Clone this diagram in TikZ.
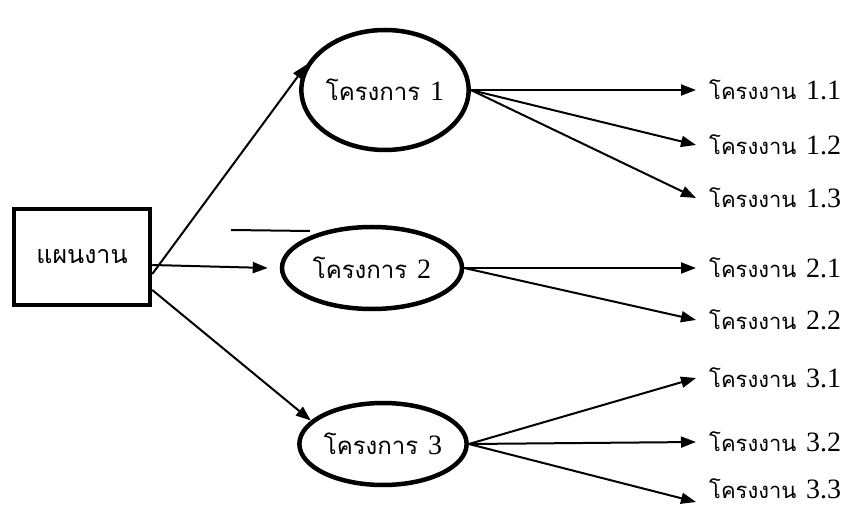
\documentclass[tikz,border=0pt]{standalone}
\usepackage{fontspec}
\setmainfont{Liberation Serif}
\newfontfamily\thaifont[Script=Thai]{Loma}
\usetikzlibrary{shapes.geometric,arrows.meta}
\tikzset{
  proj/.style={draw, ellipse, line width=4.5pt, inner sep=0pt},
  plan/.style={draw, rectangle, line width=4.5pt, minimum width=136pt, minimum height=96pt, inner sep=0pt},
  conn/.style={line width=2pt, -{Triangle[length=15pt,width=11pt]}},
  leaf/.style={anchor=west, inner xsep=13pt, inner ysep=0pt},
}
\newcommand{\thw}[2]{{\thaifont\fontsize{#1}{#1}\selectfont #2}}
\newcommand{\num}[1]{{\fontsize{28}{30}\selectfont\hspace{0.35em}#1}}
\begin{document}
\begin{tikzpicture}[x=1pt,y=-1pt]
\useasboundingbox (0,0) rectangle (851,510);
\node[plan] (box) at (82,257) {\thw{25}{แผนงาน}};
\node[proj, minimum width=154pt, minimum height=120pt] (e1) at (385,90) {\thw{24}{โครงการ}\num{1}};
\node[proj, minimum width=180pt, minimum height=82pt] (e2) at (372,268) {\thw{24}{โครงการ}\num{2}};
\node[proj, minimum width=158pt, minimum height=82pt] (e3) at (383,444) {\thw{24}{โครงการ}\num{3}};

\node[leaf] (l11) at (696,90) {\thw{22}{โครงงาน}\num{1.1}};
\node[leaf] (l12) at (696,145) {\thw{22}{โครงงาน}\num{1.2}};
\node[leaf] (l13) at (696,198) {\thw{22}{โครงงาน}\num{1.3}};
\node[leaf] (l21) at (696,268) {\thw{22}{โครงงาน}\num{2.1}};
\node[leaf] (l22) at (696,320) {\thw{22}{โครงงาน}\num{2.2}};
\node[leaf] (l31) at (696,378) {\thw{22}{โครงงาน}\num{3.1}};
\node[leaf] (l32) at (696,442) {\thw{22}{โครงงาน}\num{3.2}};
\node[leaf] (l33) at (696,489) {\thw{22}{โครงงาน}\num{3.3}};

\draw[conn] ([yshift=-17pt]box.east) -- (e1.162);
\draw[conn] ([yshift=-8pt]box.east) -- ([xshift=-12pt]e2.west);
\draw[conn] ([yshift=-33pt]box.east) -- (e3.162);

\draw[conn] (e1.east) -- (l11.west);
\draw[conn] (e1.east) -- (l12.west);
\draw[conn] (e1.east) -- (l13.west);
\draw[conn] (e2.east) -- (l21.west);
\draw[conn] (e2.east) -- (l22.west);
\draw[conn] (e3.east) -- (l31.west);
\draw[conn] (e3.east) -- (l32.west);
\draw[conn] (e3.east) -- ([yshift=-13pt]l33.west);

\coordinate (s1) at (231,230);
\coordinate (s2) at (310,231);
\draw[line width=2pt] (s1) -- (s2);
\end{tikzpicture}
\end{document}
